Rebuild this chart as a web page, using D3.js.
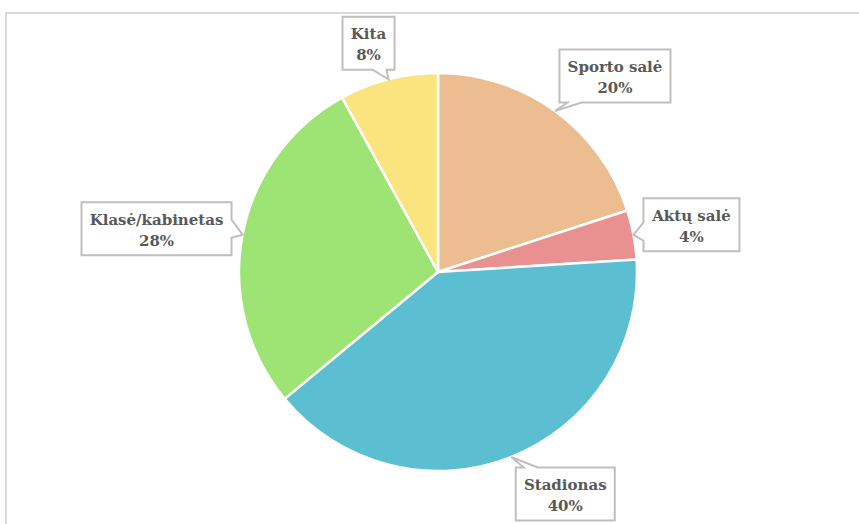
<!DOCTYPE html>
<html>
<head>
<meta charset="utf-8">
<title>Pie chart</title>
<script src="https://d3js.org/d3.v7.min.js"></script>
<style>
  body { margin: 0; background: #fff; }
  .lbl { font-family: "DejaVu Serif", serif; font-weight: bold; font-size: 15px; }
</style>
</head>
<body>
<div id="chart"></div>
<script>
// data
var categories = ["Sporto salė", "Aktų salė", "Stadionas", "Klasė/kabinetas", "Kita"];
var values = [20, 4, 40, 28, 8];
var colors = ["#ebbd91", "#e99191", "#5bbfd1", "#9de474", "#f9e47e"];

// label callout placement: box centre relative to pointer tip, side the pointer leaves from
var calloutLayout = [
  {dx: 60, dy: -35, side: "bottom", shift: 0},
  {dx: 58, dy: -10, side: "left", shift: -3},
  {dx: 54, dy: 37, side: "top", shift: 14},
  {dx: -86, dy: -6, side: "right", shift: -6},
  {dx: -20, dy: -36, side: "bottom", shift: 0}
];

var W = 859, H = 524;
var cx = 438, cy = 272, r = 199;

var svg = d3.select("#chart").append("svg")
  .attr("width", W).attr("height", H);

// chart area border
svg.append("rect")
  .attr("x", 6).attr("y", 13)
  .attr("width", 900).attr("height", 600)
  .attr("fill", "#fff")
  .attr("stroke", "#d9d9d9")
  .attr("stroke-width", 2);

var pie = d3.pie().sort(null).value(function(d) { return d; });
var arcs = pie(values);
var arc = d3.arc().innerRadius(0).outerRadius(r);

var g = svg.append("g").attr("transform", "translate(" + cx + "," + cy + ")");

g.selectAll("path.slice")
  .data(arcs)
  .enter().append("path")
    .attr("class", "slice")
    .attr("d", arc)
    .attr("fill", function(d, i) { return colors[i]; })
    .attr("stroke", "#fff")
    .attr("stroke-width", 2.5)
    .attr("stroke-linejoin", "round");

// callout shape: rectangle with a wedge pointing at (tx,ty)
function calloutPath(x, y, w, h, tx, ty, side, shift) {
  var half = 7, inset = 8;
  var x2 = x + w, y2 = y + h;
  function clamp(v, a, b) { return Math.max(a, Math.min(b, v)); }
  var p;
  if (side === "bottom" || side === "top") {
    var c = clamp(tx + shift, x + inset + half, x2 - inset - half);
    var a = c - half, b = c + half;
    if (side === "bottom")
      p = ["M", x, y, "H", x2, "V", y2, "H", b, "L", tx, ty, "L", a, y2, "H", x, "Z"];
    else
      p = ["M", x, y, "H", a, "L", tx, ty, "L", b, y, "H", x2, "V", y2, "H", x, "Z"];
  } else {
    var c2 = clamp(ty + shift, y + inset + half, y2 - inset - half);
    var a2 = c2 - half - 2, b2 = c2 + half + 2;
    if (side === "left")
      p = ["M", x, y, "H", x2, "V", y2, "H", x, "V", b2, "L", tx, ty, "L", x, a2, "Z"];
    else
      p = ["M", x, y, "H", x2, "V", a2, "L", tx, ty, "L", x2, b2, "V", y2, "H", x, "Z"];
  }
  return p.join(" ");
}

var labels = svg.append("g");

arcs.forEach(function(d, i) {
  var mid = (d.startAngle + d.endAngle) / 2;
  var tx = cx + r * Math.sin(mid);
  var ty = cy - r * Math.cos(mid);
  var lay = calloutLayout[i];
  var bx = tx + lay.dx, by = ty + lay.dy;

  var lg = labels.append("g");
  var shape = lg.append("path");
  var txt = lg.append("text")
    .attr("class", "lbl")
    .attr("text-anchor", "middle")
    .attr("fill", "#595959");
  txt.append("tspan").attr("x", bx).attr("y", by - 4).text(categories[i]);
  txt.append("tspan").attr("x", bx).attr("y", by + 17).text(values[i] + "%");

  var tw = txt.node().getBBox().width;
  var bw = Math.round(tw + 16), bh = 53;
  var x0 = bx - bw / 2, y0 = by - bh / 2;
  shape.attr("d", calloutPath(x0, y0, bw, bh, tx, ty, lay.side, lay.shift))
    .attr("fill", "#fff")
    .attr("stroke", "#bfbfbf")
    .attr("stroke-width", 2);
});
</script>
</body>
</html>
